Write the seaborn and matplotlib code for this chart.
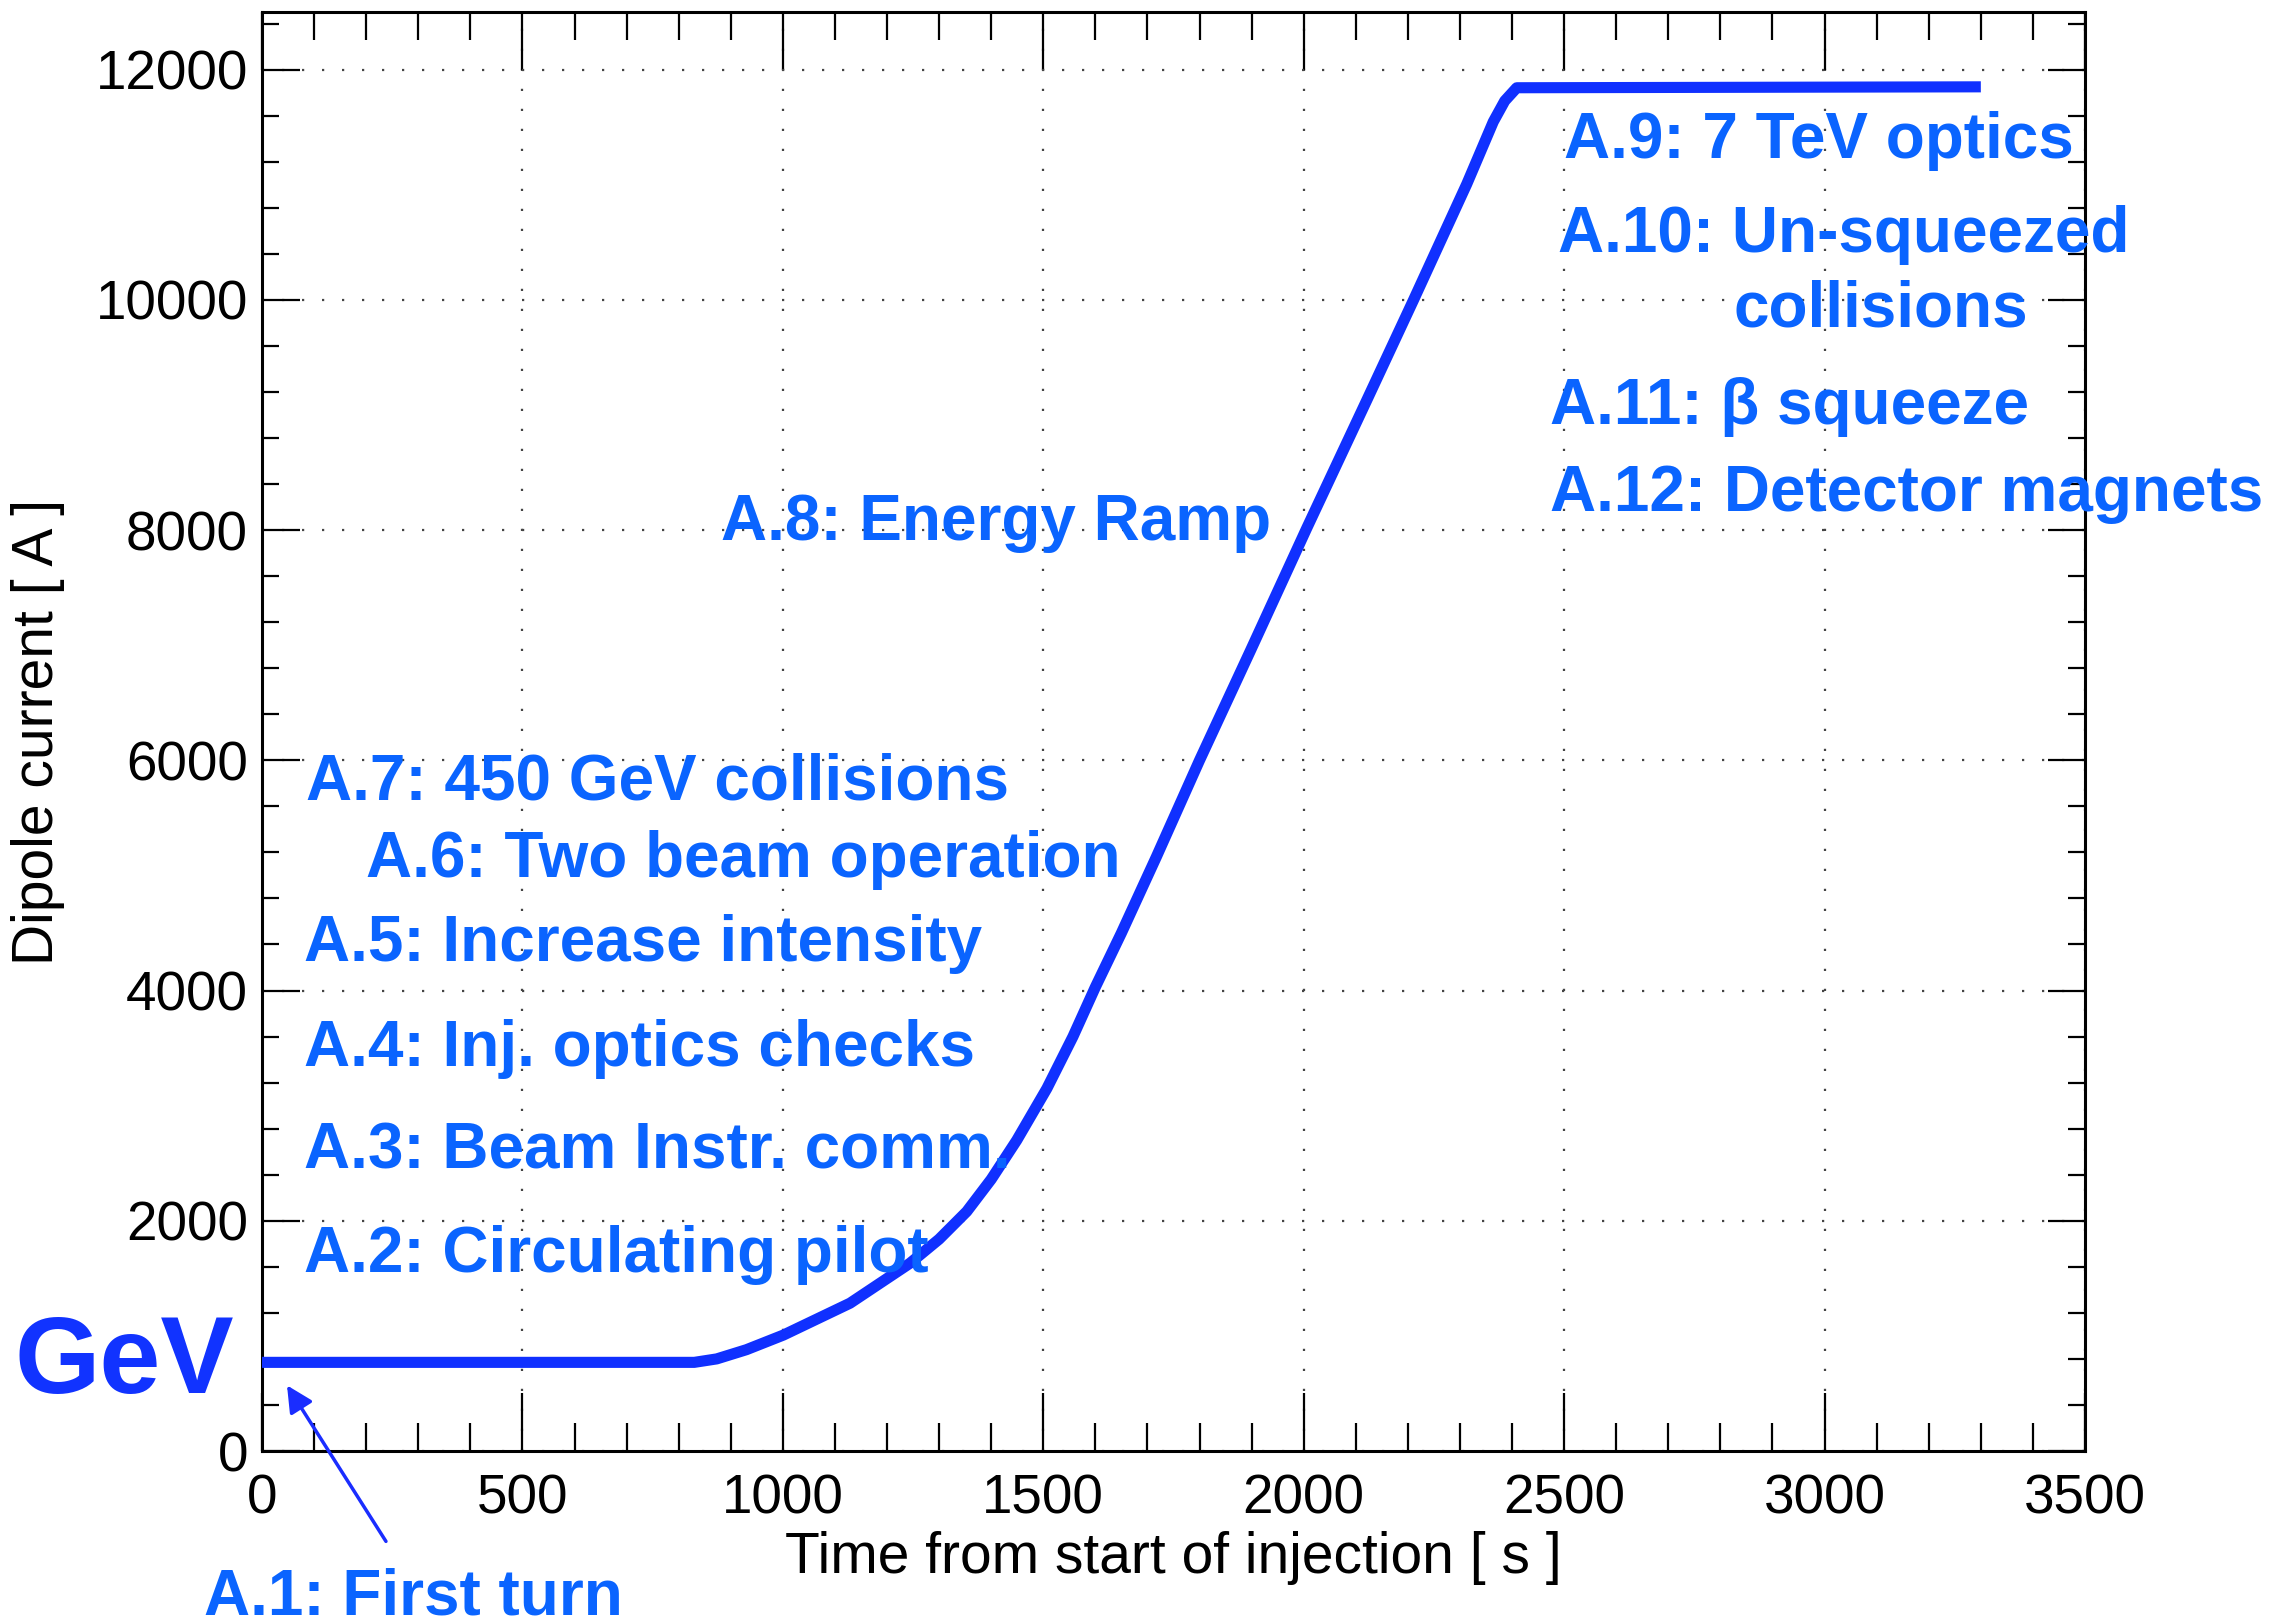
import matplotlib
matplotlib.use("Agg")
import matplotlib.pyplot as plt
from matplotlib.ticker import MultipleLocator
import seaborn as sns
import pandas as pd

# ---- data ----
time_s = [0, 830, 873, 930, 1001, 1129, 1244, 1300, 1353, 1400, 1449, 1507, 1557,
          1600, 1650, 1717, 1800, 1898, 2006, 2121, 2211, 2313, 2364, 2386, 2409, 3300]
current_A = [770, 770, 800, 880, 1007, 1284, 1631, 1840, 2080, 2360, 2699, 3150, 3600,
             4030, 4500, 5160, 6000, 6955, 8018, 9127, 10000, 11005, 11547, 11728,
             11842, 11850]

labels_text = ["A.9: 7 TeV optics", "A.10: Un-squeezed", "collisions",
               "A.11: \u03b2 squeeze", "A.12: Detector magnets", "A.8: Energy Ramp",
               "A.7: 450 GeV collisions", "A.6: Two beam operation",
               "A.5: Increase intensity", "A.4: Inj. optics checks",
               "A.3: Beam Instr. comm.", "A.2: Circulating pilot"]
labels_x = [2500, 2489, 2825, 2472, 2472, 882, 84, 199, 81, 81, 81, 81]
labels_y = [11228, 10418, 9772, 8924, 8164, 7911, 5658, 4987, 4253, 3342, 2456, 1557]

x_ticks = [0, 500, 1000, 1500, 2000, 2500, 3000, 3500]
y_ticks = [0, 2000, 4000, 6000, 8000, 10000, 12000]

df = pd.DataFrame({"t": time_s, "I": current_A})

sns.set_theme(style="ticks")
plt.rcParams["font.family"] = ["Liberation Sans", "DejaVu Sans"]

CURVE = "#1030ff"
TEXT = "#0a64ff"

fig = plt.figure(figsize=(22.86, 16.23), dpi=100)
ax = fig.add_axes([262 / 2286, 1 - 1451 / 1623, (2085 - 262) / 2286, (1451 - 12) / 1623])

sns.lineplot(data=df, x="t", y="I", ax=ax, color=CURVE, linewidth=8,
             estimator=None, sort=False, zorder=3)
ax.lines[-1].set_solid_capstyle("butt")
ax.lines[-1].set_solid_joinstyle("round")

ax.set_xlim(0, 3500)
ax.set_ylim(0, 12500)
ax.set_xticks(x_ticks)
ax.set_yticks(y_ticks)
ax.xaxis.set_minor_locator(MultipleLocator(100))
ax.yaxis.set_minor_locator(MultipleLocator(400))

ax.grid(True, which="major", color="#444444", linestyle=(0, (1, 8)), linewidth=1.6)
ax.set_axisbelow(True)

for sp in ax.spines.values():
    sp.set_visible(True)
    sp.set_linewidth(2.2)
    sp.set_color("black")

ax.tick_params(axis="both", which="both", direction="in", top=True, right=True,
               colors="black", width=1.6)
ax.tick_params(axis="x", which="major", length=42, pad=16, labelsize=39.5)
ax.tick_params(axis="x", which="minor", length=20)
ax.tick_params(axis="y", which="major", length=27, pad=10, labelsize=39.5)
ax.tick_params(axis="y", which="minor", length=12)

ax.set_xlabel("Time from start of injection [ s ]", fontsize=41, color="black", labelpad=4)
ax.set_ylabel("Dipole current [ A ]", fontsize=41, color="black", labelpad=22)

for txt, x, y in zip(labels_text, labels_x, labels_y):
    ax.text(x, y, txt, fontsize=46, fontweight="bold", color=TEXT,
            ha="left", va="baseline", zorder=4, clip_on=False)

ax.text(-476, 506, "GeV", fontsize=79, fontweight="bold", color="#1133ff",
        ha="left", va="baseline", clip_on=False)
ax.text(-112, -1418, "A.1: First turn", fontsize=46, fontweight="bold", color=TEXT,
        ha="left", va="baseline", clip_on=False)
ax.annotate("", xy=(48, 570), xytext=(238, -785), xycoords="data",
            arrowprops=dict(arrowstyle="-|>", color="#1a2dff", lw=2.5,
                            mutation_scale=40, shrinkA=0, shrinkB=0),
            annotation_clip=False)

fig.savefig("out.png", dpi=100)
